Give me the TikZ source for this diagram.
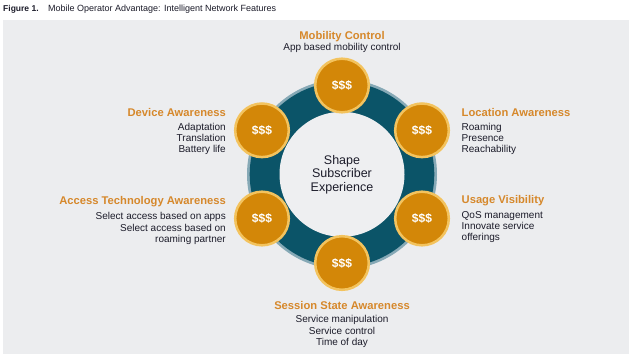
\documentclass[tikz,border=0pt]{standalone}
\usepackage{fontspec}
\setmainfont{Liberation Sans}
\definecolor{panel}{HTML}{ECEDEF}
\definecolor{ringteal}{HTML}{0B5468}
\definecolor{ringedge}{HTML}{86A9B6}
\definecolor{hubfill}{HTML}{EEEFF1}
\definecolor{coinfill}{HTML}{D38708}
\definecolor{coinedge}{HTML}{F3C35E}
\definecolor{headorange}{HTML}{D6882B}
\definecolor{bodytext}{HTML}{1C1C2A}
\tikzset{
  coin/.style={circle, fill=coinfill, draw=coinedge, line width=2.5pt, minimum size=53.6pt, inner sep=0pt, text=white, font=\fontsize{12}{12}\selectfont\bfseries},
  head/.style={inner sep=0pt, text=headorange, font=\fontsize{11.2}{12}\selectfont\bfseries},
  body/.style={inner sep=0pt, text=bodytext, font=\fontsize{10}{11.2}\selectfont},
  hub/.style={circle, fill=hubfill, minimum size=125pt, inner sep=0pt, align=center, text=bodytext, font=\fontsize{12.5}{13.5}\selectfont}
}
\begin{document}
\begin{tikzpicture}[x=1pt,y=-1pt]
\useasboundingbox (0,0) rectangle (640,362);
\fill[white] (0,0) rectangle (640,362);
\fill[panel] (3,20) rectangle (629,354);
% title
\node[anchor=base west, inner sep=0pt, font=\fontsize{8.5}{9}\selectfont\bfseries, text=bodytext] (fig) at (3,11) {Figure 1.};
\node[anchor=base west, inner sep=0pt, font=\fontsize{9}{10}\selectfont, text=bodytext] (title) at (48,11) {Mobile Operator Advantage: Intelligent Network Features};
% ring
\fill[ringedge] (342,174.3) circle (95);
\fill[ringteal] (342,174.3) circle (92.3);
\node[hub] (hubc) at (342,174.3) {Shape\\Subscriber\\Experience};
% coins
\node[coin] (mob) at (342,85.5) {\$\$\$};
\node[coin] (dev) at (262,130.3) {\$\$\$};
\node[coin] (loc) at (422,130.3) {\$\$\$};
\node[coin] (acc) at (262,218.5) {\$\$\$};
\node[coin] (use) at (422,218.5) {\$\$\$};
\node[coin] (ses) at (342,263) {\$\$\$};
% labels
\node[head, anchor=base] (mobh) at (342,39) {Mobility Control};
\node[body, anchor=north, align=center] (mobb) at (342,43.4) {App based mobility control};
\node[head, anchor=base east] (devh) at (226,116.7) {Device Awareness};
\node[body, anchor=north east, align=right] (devb) at (226,123.1) {Adaptation\\Translation\\Battery life};
\node[head, anchor=base west] (loch) at (461.5,116.7) {Location Awareness};
\node[body, anchor=north west, align=left] (locb) at (461.5,123.1) {Roaming\\Presence\\Reachability};
\node[head, anchor=base east] (acch) at (226,204) {Access Technology Awareness};
\node[body, anchor=north east, align=right, font=\fontsize{10}{11.7}\selectfont] (accb) at (226,212.1) {Select access based on apps\\Select access based on\\roaming partner\hspace{2pt}};
\node[head, anchor=base west] (useh) at (461.5,203.3) {Usage Visibility};
\node[body, anchor=north west, align=left] (useb) at (461.5,211.4) {QoS management\\Innovate service\\offerings};
\node[head, anchor=base] (sesh) at (342,309) {Session State Awareness};
\node[body, anchor=north, align=center] (sesb) at (342,315.4) {Service manipulation\\Service control\\Time of day};
\end{tikzpicture}
\end{document}
